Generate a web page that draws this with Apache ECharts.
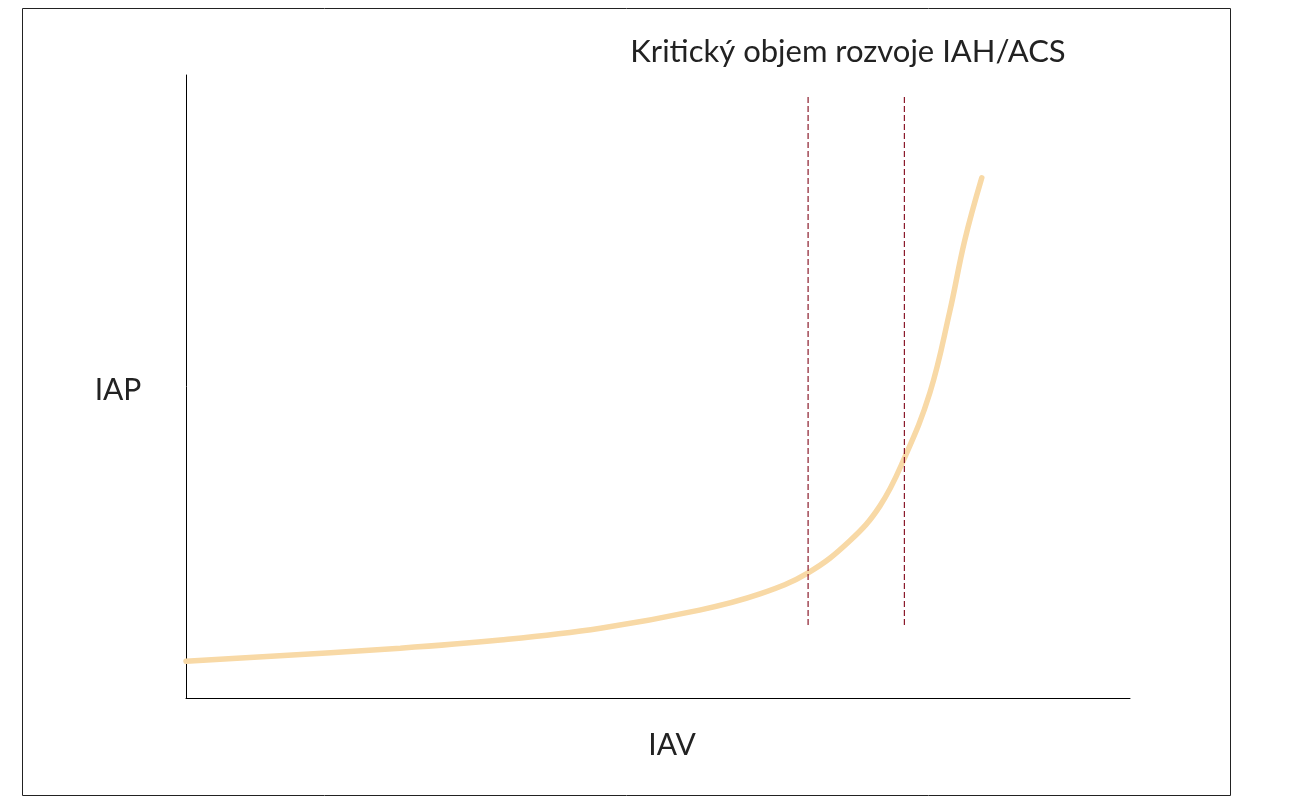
<!DOCTYPE html>
<html><head><meta charset="utf-8">
<script src="https://cdn.jsdelivr.net/npm/echarts@6/dist/echarts.min.js"></script>
<style>html,body{margin:0;padding:0;background:#fff}#c{width:1293px;height:800px}</style>
</head><body><div id="c"></div>
<script>
const curveX = [0, 22.7, 33.3, 43.9, 54.4, 60.8, 65.9, 70.3, 73.5, 76.1, 78.8, 80.9, 82.5, 84.3];
const curveY = [5.9, 8.0, 9.3, 11.2, 14.1, 16.7, 20.1, 25.2, 30.8, 38.5, 49.0, 62.0, 73.5, 83.5];
const criticalX = [65.9, 76.1];
const dashRange = [11.7, 96.5];
const titleText = 'Kritický objem rozvoje IAH/ACS';
const xName = 'IAV', yName = 'IAP';

const chart = echarts.init(document.getElementById('c'));
const font = 'Lato, "Open Sans", sans-serif';
const series = [{
  type: 'line', smooth: 0.4, symbol: 'none',
  data: curveX.map((x, i) => [x, curveY[i]]),
  lineStyle: {color: '#f8d9a6', width: 5.5, cap: 'round'}
}];
criticalX.forEach(x => series.push({
  type: 'line', symbol: 'none', data: [[x, dashRange[0]], [x, dashRange[1]]],
  lineStyle: {color: '#8b1a2b', width: 1.2, type: [6, 3]}
}));
chart.setOption({
  animation: false,
  grid: {left: 186, top: 75, width: 944, height: 623},
  xAxis: {type: 'value', min: 0, max: 100, axisLine: {lineStyle: {color: '#000', width: 1}},
    axisTick: {show: false}, axisLabel: {show: false}, splitLine: {show: false}},
  yAxis: {type: 'value', min: 0, max: 100, axisLine: {show: true, lineStyle: {color: '#000', width: 1}},
    axisTick: {show: false}, axisLabel: {show: false}, splitLine: {show: false}},
  series,
  graphic: [
    {type: 'rect', shape: {x: 22.5, y: 8.5, width: 1208, height: 787}, style: {fill: 'none', stroke: '#222', lineWidth: 1}},
    {type: 'text', x: 848, y: 52, style: {text: titleText, font: '31px ' + font, fill: '#222', textAlign: 'center', textVerticalAlign: 'middle'}},
    {type: 'text', x: 118, y: 390, style: {text: yName, font: '30px ' + font, fill: '#222', textAlign: 'center', textVerticalAlign: 'middle'}},
    {type: 'text', x: 672, y: 745, style: {text: xName, font: '30px ' + font, fill: '#222', textAlign: 'center', textVerticalAlign: 'middle'}}
  ]
});
</script></body></html>
